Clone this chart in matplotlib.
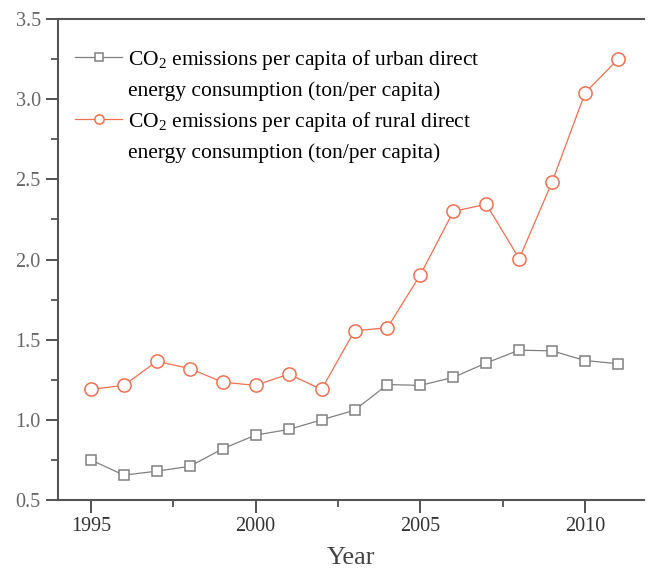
import matplotlib.pyplot as plt
from matplotlib.lines import Line2D
from matplotlib.ticker import MultipleLocator

years = list(range(1995, 2012))
urban = [0.75, 0.655, 0.68, 0.71, 0.82, 0.905, 0.94, 1.0, 1.06, 1.22, 1.215,
         1.265, 1.355, 1.435, 1.43, 1.37, 1.35]
rural = [1.19, 1.215, 1.365, 1.32, 1.235, 1.215, 1.285, 1.19, 1.555, 1.575, 1.905,
         2.30, 2.345, 2.005, 2.485, 3.04, 3.25]

legend_lines = ["CO$_2$ emissions per capita of urban direct",
                "energy consumption (ton/per capita)",
                "CO$_2$ emissions per capita of rural direct",
                "energy consumption (ton/per capita)"]

plt.rcParams['font.family'] = 'Liberation Serif'
plt.rcParams['mathtext.fontset'] = 'custom'
plt.rcParams['mathtext.rm'] = 'Liberation Serif'

fig = plt.figure(figsize=(6.48, 5.68), dpi=100)
ax = fig.add_axes([0.0895, 0.1197, 0.905, 0.8468])

urban_line, = ax.plot(years, urban, color="#808080", lw=0.9, marker="s", ms=7.5,
                      mfc="white", mec="#808080", mew=1.1)
rural_line, = ax.plot(years, rural, color="#f07050", lw=0.9, marker="o", ms=9.5,
                      mfc="white", mec="#f07050", mew=1.1)

ax.set_xlim(1994.0, 2011.8)
ax.set_ylim(0.5, 3.5)
ax.xaxis.set_major_locator(MultipleLocator(5))
ax.xaxis.set_minor_locator(MultipleLocator(2.5))
ax.yaxis.set_major_locator(MultipleLocator(0.5))
ax.yaxis.set_minor_locator(MultipleLocator(0.25))
ax.yaxis.set_major_formatter(lambda v, p: f"{v:.1f}")

for s in ["left", "bottom", "top"]:
    ax.spines[s].set_color("#555555")
    ax.spines[s].set_linewidth(1.5)
ax.spines["right"].set_visible(False)

ax.tick_params(which="major", direction="out", length=9, width=1.3,
               color="#444444", labelsize=14.5, labelcolor="#666666")
ax.tick_params(which="minor", direction="out", length=5, width=1.2, color="#444444")
ax.tick_params(axis="x", labelcolor="#333333")

ax.set_xlabel("Year", fontsize=19, color="#444444", labelpad=8)

# legend: handle only on the first line of each two-line entry
blank = Line2D([], [], color="none")
ax.legend([urban_line, blank, rural_line, blank], legend_lines,
          loc="upper left", frameon=False, fontsize=15.5, markerscale=0.7,
          handlelength=2.15, handletextpad=0.3, borderaxespad=0.0,
          labelspacing=0.42, bbox_to_anchor=(0.015, 0.958))

fig.savefig("out.png", dpi=100)
